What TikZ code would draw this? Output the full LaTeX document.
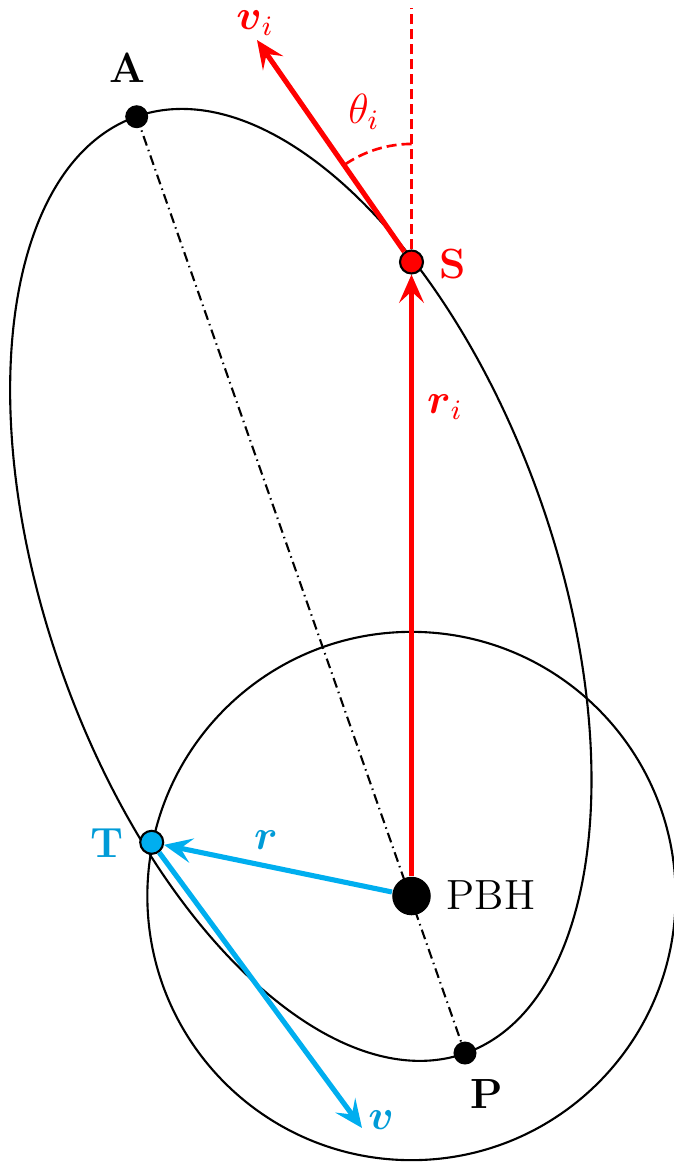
\documentclass[tikz,border=0pt]{standalone}
\usepackage{amsmath}
\usetikzlibrary{arrows.meta,backgrounds}
\definecolor{cyanA}{RGB}{0,174,239}
\definecolor{cyanT}{RGB}{0,155,215}
\begin{document}
\begin{tikzpicture}[x=0.01cm, y=0.01cm, font=\fontsize{12}{14}\selectfont,
  thinline/.style={line width=0.6pt, black},
  dashdotline/.style={line width=0.6pt, black, dash pattern=on 0.1cm off 0.045cm on 0.015cm off 0.045cm},
  dot/.style={circle, fill=black, inner sep=0pt, minimum size=0.23cm},
  ringdot/.style={dot, draw=black, line width=0.6pt},
  tip/.style={-{Stealth[length=8pt,width=7pt,inset=3.2pt]}},
  redarrow/.style={tip, line width=1.45pt, red},
  cyanarrow/.style={tip, line width=1.45pt, cyanA},
  reddash/.style={line width=0.75pt, red, dash pattern=on 0.1cm off 0.05cm},
  lbl/.style={inner sep=0pt}]
\useasboundingbox (0,0) rectangle (674,-1162);

% points
\node[dot] (A) at (136.7,-116.7) {};
\node[dot] (P) at (465,-1053) {};
\node[dot, minimum size=0.385cm] (pbh) at (411.5,-896) {};
\node[ringdot, fill=red] (S) at (411.5,-262) {};
\node[ringdot, fill=cyanA] (T) at (151.7,-842.3) {};
\coordinate (vi) at (257,-40);
\coordinate (top) at (411.5,-8);
\coordinate (vtip) at (362,-1128);
\coordinate (ec) at (300.85,-584.85);

% orbit, circle, apsidal line
\begin{scope}[on background layer]
  \draw[thinline] (pbh.center) circle[radius=2.64cm];
  \draw[thinline, rotate around={109.32:(ec)}] (ec) ellipse[x radius=4.961cm, y radius=2.54cm];
  \draw[dashdotline] (A.center) -- (P.center);
\end{scope}

% vectors
\draw[redarrow] (pbh) -- (S);
\draw[redarrow] (S) -- (vi);
\draw[reddash] (S) -- (top);
\draw[reddash] ([shift={(90:1.18cm)}]S.center) arc[start angle=90, end angle=125, radius=1.18cm];
\draw[cyanarrow] (pbh) -- (T);
\draw[cyanarrow] (T) -- (vtip);

% labels
\node[lbl] (lA) at (127,-68) {\textbf{A}};
\node[lbl] (lP) at (487,-1094) {\textbf{P}};
\node[lbl, text=red] (lS) at (453,-264) {\textbf{S}};
\node[lbl, text=cyanT] (lT) at (107,-843) {\textbf{T}};
\node[lbl] (lPBH) at (491,-895) {PBH};
\node[lbl, text=red] (lri) at (445,-407) {$\boldsymbol{r}_i$};
\node[lbl, text=red] (lvi) at (255,-23) {$\boldsymbol{v}_i$};
\node[lbl, text=red] (lth) at (364,-112) {$\theta_i$};
\node[lbl, text=cyanT] (lr) at (266,-840) {$\boldsymbol{r}$};
\node[lbl, text=cyanT] (lv) at (381,-1120) {$\boldsymbol{v}$};
\end{tikzpicture}
\end{document}
